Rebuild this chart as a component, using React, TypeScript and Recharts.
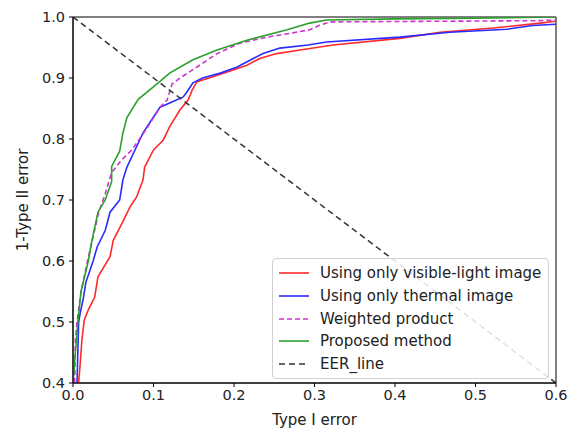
import React from 'react';
import {
  LineChart,
  Line,
  XAxis,
  YAxis,
  ReferenceArea,
  Label
} from 'recharts';

// tick values
const xTicks = [0, 0.1, 0.2, 0.3, 0.4, 0.5, 0.6];
const yTicks = [0.4, 0.5, 0.6, 0.7, 0.8, 0.9, 1.0];

// ROC points (x = type I error, y = 1 - type II error)
const visibleData = [
  { x: 0.007, y: 0.4 }, { x: 0.009, y: 0.433 }, { x: 0.011, y: 0.47 },
  { x: 0.014, y: 0.503 }, { x: 0.019, y: 0.52 }, { x: 0.027, y: 0.541 },
  { x: 0.031, y: 0.574 }, { x: 0.046, y: 0.607 }, { x: 0.05, y: 0.634 },
  { x: 0.061, y: 0.662 }, { x: 0.071, y: 0.689 }, { x: 0.079, y: 0.705 },
  { x: 0.087, y: 0.733 }, { x: 0.089, y: 0.754 }, { x: 0.1, y: 0.782 },
  { x: 0.112, y: 0.798 }, { x: 0.12, y: 0.82 }, { x: 0.133, y: 0.848 },
  { x: 0.143, y: 0.864 }, { x: 0.148, y: 0.88 }, { x: 0.154, y: 0.894 },
  { x: 0.174, y: 0.902 }, { x: 0.199, y: 0.913 }, { x: 0.216, y: 0.921 },
  { x: 0.232, y: 0.932 }, { x: 0.253, y: 0.94 }, { x: 0.282, y: 0.946 },
  { x: 0.323, y: 0.954 }, { x: 0.406, y: 0.965 }, { x: 0.456, y: 0.975 },
  { x: 0.522, y: 0.982 }, { x: 0.58, y: 0.99 }, { x: 0.6, y: 0.993 }
];

const thermalData = [
  { x: 0.005, y: 0.4 }, { x: 0.006, y: 0.45 }, { x: 0.007, y: 0.5 },
  { x: 0.009, y: 0.515 }, { x: 0.013, y: 0.54 }, { x: 0.016, y: 0.565 },
  { x: 0.025, y: 0.6 }, { x: 0.03, y: 0.623 }, { x: 0.04, y: 0.65 },
  { x: 0.046, y: 0.68 }, { x: 0.058, y: 0.7 }, { x: 0.062, y: 0.733 },
  { x: 0.067, y: 0.754 }, { x: 0.077, y: 0.782 }, { x: 0.087, y: 0.81 },
  { x: 0.1, y: 0.836 }, { x: 0.108, y: 0.852 }, { x: 0.12, y: 0.859 },
  { x: 0.137, y: 0.869 }, { x: 0.143, y: 0.88 }, { x: 0.149, y: 0.892 },
  { x: 0.161, y: 0.9 }, { x: 0.183, y: 0.908 }, { x: 0.204, y: 0.918 },
  { x: 0.224, y: 0.932 }, { x: 0.236, y: 0.94 }, { x: 0.257, y: 0.949 },
  { x: 0.292, y: 0.954 }, { x: 0.315, y: 0.959 }, { x: 0.406, y: 0.967 },
  { x: 0.468, y: 0.975 }, { x: 0.539, y: 0.98 }, { x: 0.571, y: 0.986 },
  { x: 0.6, y: 0.988 }
];

const weightedData = [
  { x: 0.002, y: 0.4 }, { x: 0.003, y: 0.47 }, { x: 0.005, y: 0.5 },
  { x: 0.01, y: 0.55 }, { x: 0.018, y: 0.6 }, { x: 0.025, y: 0.64 },
  { x: 0.032, y: 0.68 }, { x: 0.04, y: 0.71 }, { x: 0.048, y: 0.745 },
  { x: 0.06, y: 0.765 }, { x: 0.073, y: 0.782 }, { x: 0.08, y: 0.795 },
  { x: 0.093, y: 0.82 }, { x: 0.108, y: 0.852 }, { x: 0.117, y: 0.864 },
  { x: 0.123, y: 0.89 }, { x: 0.133, y: 0.9 }, { x: 0.154, y: 0.918 },
  { x: 0.179, y: 0.94 }, { x: 0.207, y: 0.957 }, { x: 0.241, y: 0.967 },
  { x: 0.273, y: 0.974 }, { x: 0.294, y: 0.979 }, { x: 0.307, y: 0.987 },
  { x: 0.32, y: 0.992 }, { x: 0.45, y: 0.993 }, { x: 0.58, y: 0.994 },
  { x: 0.6, y: 0.995 }
];

const proposedData = [
  { x: 0.0, y: 0.4 }, { x: 0.003, y: 0.45 }, { x: 0.006, y: 0.5 },
  { x: 0.01, y: 0.55 }, { x: 0.019, y: 0.6 }, { x: 0.023, y: 0.63 },
  { x: 0.031, y: 0.68 }, { x: 0.04, y: 0.7 }, { x: 0.048, y: 0.73 },
  { x: 0.048, y: 0.755 }, { x: 0.058, y: 0.78 }, { x: 0.062, y: 0.81 },
  { x: 0.067, y: 0.835 }, { x: 0.081, y: 0.865 }, { x: 0.104, y: 0.89 },
  { x: 0.12, y: 0.908 }, { x: 0.149, y: 0.93 }, { x: 0.179, y: 0.946 },
  { x: 0.216, y: 0.962 }, { x: 0.266, y: 0.979 }, { x: 0.294, y: 0.99 },
  { x: 0.315, y: 0.995 }, { x: 0.4, y: 0.997 }, { x: 0.5, y: 0.998 },
  { x: 0.6, y: 1.0 }
];

const eerData = [
  { x: 0, y: 1.0 },
  { x: 0.6, y: 0.4 }
];

const series = [
  { name: 'Using only visible-light image', data: visibleData, color: '#ff2a2a', dash: undefined },
  { name: 'Using only thermal image', data: thermalData, color: '#2a2aff', dash: undefined },
  { name: 'Weighted product', data: weightedData, color: '#cc33cc', dash: '5 3' },
  { name: 'Proposed method', data: proposedData, color: '#2ca02c', dash: undefined },
  { name: 'EER_line', data: eerData, color: '#333333', dash: '6 4' }
];

const FONT = '"DejaVu Sans", sans-serif';
const TEXT = '#222';
const TICK_SIZE = 14.5;
const LABEL_SIZE = 15;

// matplotlib-style legend box, lower right inside the axes
function LegendBox() {
  return (
    <div
      style={{
        position: 'absolute',
        left: 272,
        top: 258,
        border: '1px solid #d0d0d0',
        borderRadius: 4,
        background: 'rgba(255,255,255,0.85)',
        padding: '3px 7px 3px 5px',
        fontFamily: FONT,
        fontSize: LABEL_SIZE,
        color: TEXT
      }}
    >
      {series.map((s) => (
        <div key={s.name} style={{ display: 'flex', alignItems: 'center', height: 22.7 }}>
          <svg width={32} height={10} style={{ marginRight: 10 }}>
            <line
              x1={1}
              x2={31}
              y1={5}
              y2={5}
              stroke={s.color}
              strokeWidth={1.6}
              strokeDasharray={s.dash}
            />
          </svg>
          <span>{s.name}</span>
        </div>
      ))}
    </div>
  );
}

export default function App() {
  return (
    <div style={{ position: 'absolute', left: 0, top: 0, width: 570, height: 433, background: '#fff' }}>
      <LineChart
        width={570}
        height={433}
        margin={{ top: 17, right: 14, bottom: 20, left: 23 }}
      >
        <XAxis
          type="number"
          dataKey="x"
          domain={[0, 0.6]}
          ticks={xTicks}
          allowDataOverflow
          tickFormatter={(v: number) => v.toFixed(1)}
          tick={{ fill: TEXT, fontSize: TICK_SIZE, fontFamily: FONT }}
          tickSize={4}
          tickMargin={3}
          axisLine={{ stroke: '#000' }}
          tickLine={{ stroke: '#000' }}
          height={30}
        >
          <Label
            value="Type I error"
            position="bottom"
            offset={1}
            style={{ fill: TEXT, fontSize: LABEL_SIZE, fontFamily: FONT }}
          />
        </XAxis>
        <YAxis
          type="number"
          dataKey="y"
          domain={[0.4, 1.0]}
          ticks={yTicks}
          allowDataOverflow
          tickFormatter={(v: number) => v.toFixed(1)}
          tick={{ fill: TEXT, fontSize: TICK_SIZE, fontFamily: FONT }}
          tickSize={4}
          tickMargin={4}
          axisLine={{ stroke: '#000' }}
          tickLine={{ stroke: '#000' }}
          width={50}
        >
          <Label
            value="1-Type II error"
            angle={-90}
            position="insideLeft"
            offset={0}
            style={{ fill: TEXT, fontSize: LABEL_SIZE, fontFamily: FONT, textAnchor: 'middle' }}
          />
        </YAxis>
        <ReferenceArea
          x1={0}
          x2={0.6}
          y1={0.4}
          y2={1.0}
          fill="none"
          stroke="#000"
          strokeWidth={1}
        />
        {series.map((s) => (
          <Line
            key={s.name}
            data={s.data}
            dataKey="y"
            name={s.name}
            type="linear"
            stroke={s.color}
            strokeWidth={s.name === 'EER_line' ? 1.5 : 1.6}
            strokeDasharray={s.dash}
            dot={false}
            activeDot={false}
            isAnimationActive={false}
          />
        ))}
      </LineChart>
      <LegendBox />
    </div>
  );
}
